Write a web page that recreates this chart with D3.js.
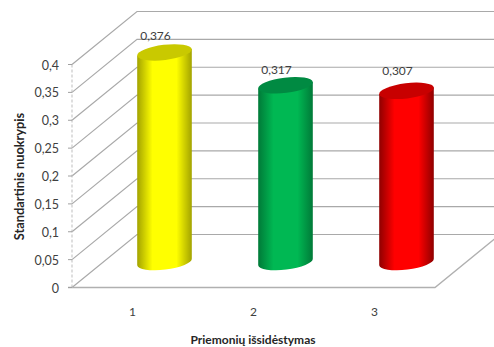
<!DOCTYPE html>
<html>
<head>
<meta charset="utf-8">
<script src="https://cdn.jsdelivr.net/npm/d3@7"></script>
<style>
  html, body { margin: 0; padding: 0; background: #fff; }
  svg { display: block; }
  text { font-family: Lato, "Open Sans", sans-serif; fill: #404040; }
</style>
</head>
<body>
<div id="chart"></div>
<script>
// Chart values
const categories = ["1", "2", "3"];
const deviations = [0.376, 0.317, 0.307];
const valueLabels = ["0,376", "0,317", "0,307"];
const yTicks = [0, 0.05, 0.1, 0.15, 0.2, 0.25, 0.3, 0.35, 0.4];
const yTickLabels = ["0", "0,05", "0,1", "0,15", "0,2", "0,25", "0,3", "0,35", "0,4"];
const yTitle = "Standartinis nuokrypis";
const xTitle = "Priemonių išsidėstymas";

// Cylinder colours: lit side, shaded edge, top cap
const sideColors = ["#ffff00", "#00b853", "#ff0000"];
const edgeColors = ["#a3a300", "#007a38", "#8f0000"];
const capColors = ["#c9c900", "#008a42", "#c80000"];

const width = 494, height = 347;
const depthX = 65, depthY = -53;      // oblique offset from the front of the box to the back wall
const barDepthX = 32, barDepthY = -25.5; // cylinders stand near mid-depth on the floor
const rx = 27.5, ry = 7.6, tilt = -7;
const labelLift = [12.5, 11.5, 15.5];  // gap between each cap centre and its value label

const x = d3.scaleBand().domain(categories).range([72, 435]);
const y = d3.scaleLinear().domain([0, 0.4]).range([287.5, 64.5]);

const svg = d3.select("#chart").append("svg")
  .attr("width", width).attr("height", height);

// Horizontal shading across each cylinder
const defs = svg.append("defs");
categories.forEach((c, i) => {
  const g = defs.append("linearGradient").attr("id", "side" + i)
    .attr("x1", 0).attr("x2", 1).attr("y1", 0).attr("y2", 0);
  [[0, edgeColors[i]], [0.28, sideColors[i]], [0.72, sideColors[i]], [1, edgeColors[i]]]
    .forEach(([o, col]) => g.append("stop").attr("offset", o).attr("stop-color", col));
});

// Back wall and side wall gridlines
const grid = svg.append("g").attr("fill", "none").attr("stroke", "#a9a9a9").attr("stroke-width", 1.2);
grid.selectAll("path").data(yTicks).join("path")
  .attr("d", d => {
    const p = d3.path();
    p.moveTo(72, y(d));
    p.lineTo(72 + depthX, y(d) + depthY);
    p.lineTo(width + 6, y(d) + depthY);
    return p.toString();
  });

// Floor: front edge and right-hand edge
const floor = d3.path();
floor.moveTo(68, y(0));
floor.lineTo(435, y(0));
floor.lineTo(435 + depthX, y(0) + depthY);
svg.append("path").attr("d", floor.toString())
  .attr("fill", "none").attr("stroke", "#b0b0b0").attr("stroke-width", 1.4);

// Dashed value axis with tick marks
svg.append("line")
  .attr("x1", 72).attr("x2", 72).attr("y1", y(0.4)).attr("y2", y(0))
  .attr("stroke", "#bdbdbd").attr("stroke-dasharray", "3 2");
svg.append("g").selectAll("line").data(yTicks).join("line")
  .attr("x1", 68).attr("x2", 72)
  .attr("y1", d => y(d)).attr("y2", d => y(d))
  .attr("stroke", "#a0a0a0");

svg.append("g").selectAll("text").data(yTicks).join("text")
  .attr("x", 59).attr("y", d => y(d) + 5)
  .attr("text-anchor", "end").attr("font-size", 12.5)
  .text((d, i) => yTickLabels[i]);

// Cylinders
const rad = tilt * Math.PI / 180;
const ex = rx * Math.cos(rad), ey = rx * Math.sin(rad);
const bars = svg.append("g").selectAll("g").data(deviations).join("g");

bars.append("path")
  .attr("fill", (d, i) => `url(#side${i})`)
  .attr("d", (d, i) => {
    const cx = x(categories[i]) + x.bandwidth() / 2 + barDepthX;
    const top = y(d) + barDepthY, base = y(0) + barDepthY;
    return `M${cx - ex},${top - ey} L${cx + ex},${top + ey} L${cx + ex},${base + ey}` +
      ` A${rx},${ry} ${tilt} 0 1 ${cx - ex},${base - ey} Z`;
  });

bars.append("ellipse")
  .attr("rx", rx).attr("ry", ry)
  .attr("fill", (d, i) => capColors[i])
  .attr("transform", (d, i) => {
    const cx = x(categories[i]) + x.bandwidth() / 2 + barDepthX;
    return `translate(${cx},${y(d) + barDepthY}) rotate(${tilt})`;
  });

// Value labels above each cylinder
svg.append("g").selectAll("text").data(deviations).join("text")
  .attr("x", (d, i) => x(categories[i]) + x.bandwidth() / 2 + 23)
  .attr("y", (d, i) => y(d) + barDepthY - labelLift[i])
  .attr("text-anchor", "middle").attr("font-size", 12)
  .text((d, i) => valueLabels[i]);

// Category labels
svg.append("g").selectAll("text").data(categories).join("text")
  .attr("x", d => x(d) + x.bandwidth() / 2)
  .attr("y", 316)
  .attr("text-anchor", "middle").attr("font-size", 12)
  .text(d => d);

// Axis titles
svg.append("text")
  .attr("x", 253).attr("y", 343.5)
  .attr("text-anchor", "middle").attr("font-size", 12).attr("font-weight", 700)
  .style("fill", "#262626").text(xTitle);

svg.append("text")
  .attr("transform", "translate(24,176.5) rotate(-90)")
  .attr("text-anchor", "middle").attr("font-size", 12.8).attr("font-weight", 700)
  .style("fill", "#262626").text(yTitle);
</script>
</body>
</html>
